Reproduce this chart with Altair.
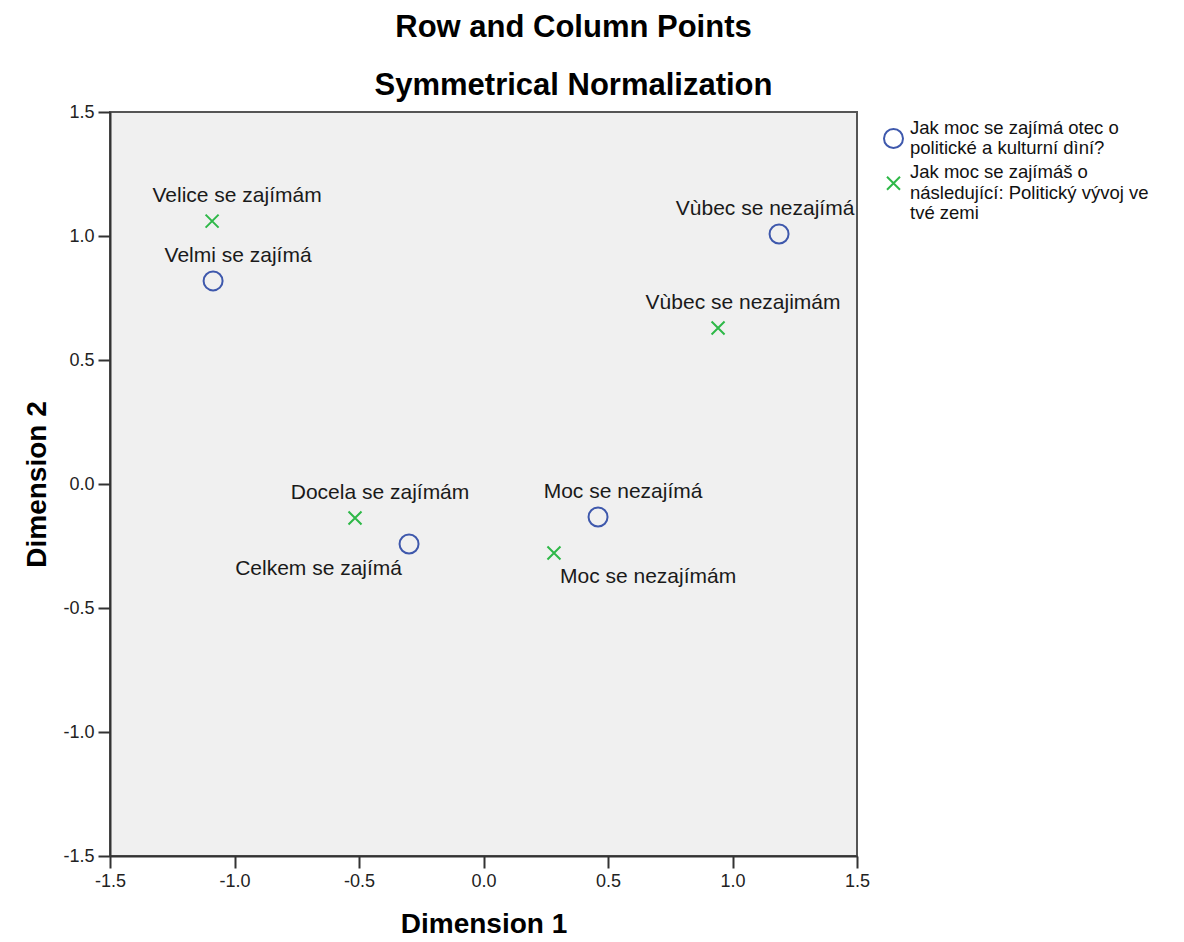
import altair as alt
import pandas as pd

# Row points (father's interest)
row_series = "Jak moc se zajímá otec o\npolitické a kulturní dìní?"
row_labels = ["Velmi se zajímá", "Celkem se zajímá", "Moc se nezajímá", "Vùbec se nezajímá"]
row_dim1 = [-1.086, -0.299, 0.460, 1.187]
row_dim2 = [0.819, -0.242, -0.133, 1.008]

# Column points (own interest)
col_series = "Jak moc se zajímáš o\nnásledující: Politický vývoj ve\ntvé zemi"
col_labels = ["Velice se zajímám", "Docela se zajímám", "Moc se nezajímám", "Vùbec se nezajimám"]
col_dim1 = [-1.090, -0.516, 0.283, 0.942]
col_dim2 = [1.060, -0.137, -0.278, 0.629]

axis_ticks = [-1.5, -1.0, -0.5, 0.0, 0.5, 1.0, 1.5]

df = pd.DataFrame({
    "series": [row_series] * len(row_labels) + [col_series] * len(col_labels),
    "label": row_labels + col_labels,
    "dim1": row_dim1 + col_dim1,
    "dim2": row_dim2 + col_dim2,
})

FONT = "Liberation Sans"
BLUE = "#3E58AC"
GREEN = "#2EB848"

tick_expr = "datum.value < 0 ? '-' + format(-datum.value, '.1f') : format(datum.value, '.1f')"

xenc = alt.X("dim1:Q", scale=alt.Scale(domain=[-1.5, 1.5], nice=False, zero=False),
             axis=alt.Axis(values=axis_ticks, labelExpr=tick_expr, title="Dimension 1",
                           titleX=373.5, titleY=68, titleBaseline="middle"))
yenc = alt.Y("dim2:Q", scale=alt.Scale(domain=[-1.5, 1.5], nice=False, zero=False),
             axis=alt.Axis(values=axis_ticks, labelExpr=tick_expr, title="Dimension 2",
                           titleX=-73, titleY=372, titleAngle=270, titleBaseline="middle"))

legend_def = alt.Legend(
    title=None, orient="none", legendX=773, legendY=16,
    labelExpr="split(datum.label, '\\n')",
)
series_domain = [row_series, col_series]

points = alt.Chart(df).mark_point(filled=False, strokeWidth=2, opacity=1).encode(
    x=xenc,
    y=yenc,
    color=alt.Color("series:N", scale=alt.Scale(domain=series_domain, range=[BLUE, GREEN]),
                    legend=legend_def),
    shape=alt.Shape("series:N", scale=alt.Scale(domain=series_domain,
                                                range=["circle", "M-1,-1L1,1M1,-1L-1,1"]),
                    legend=legend_def),
    size=alt.Size("series:N", scale=alt.Scale(domain=series_domain, range=[361, 169]),
                  legend=legend_def),
)

base = alt.Chart(df)
txt = dict(font=FONT, fontSize=21, color="#1a1a1a", baseline="middle")

above_labels = ["Velmi se zajímá", "Moc se nezajímá", "Velice se zajímám",
                "Docela se zajímám", "Vùbec se nezajimám"]
above = base.transform_filter(alt.FieldOneOfPredicate(field="label", oneOf=above_labels)).mark_text(
    align="center", dx=25, dy=-25, **txt).encode(x="dim1:Q", y="dim2:Q", text="label:N")
edge = base.transform_filter(alt.FieldOneOfPredicate(field="label", oneOf=["Vùbec se nezajímá"])).mark_text(
    align="center", dx=-14, dy=-25, **txt).encode(x="dim1:Q", y="dim2:Q", text="label:N")
below_left = base.transform_filter(alt.FieldOneOfPredicate(field="label", oneOf=["Celkem se zajímá"])).mark_text(
    align="right", dx=-7, dy=25, **txt).encode(x="dim1:Q", y="dim2:Q", text="label:N")
below_right = base.transform_filter(alt.FieldOneOfPredicate(field="label", oneOf=["Moc se nezajímám"])).mark_text(
    align="left", dx=6, dy=24, **txt).encode(x="dim1:Q", y="dim2:Q", text="label:N")

chart = alt.layer(points, above, edge, below_left, below_right).properties(
    width=747,
    height=744,
    autosize=alt.AutoSizeParams(type="none"),
    padding={"left": 102, "top": 104, "right": 315, "bottom": 84},
    title=alt.TitleParams(
        text=["Row and Column Points", "Symmetrical Normalization"],
        font=FONT, fontSize=31, fontWeight="bold", color="black",
        lineHeight=58, anchor="middle", frame="group", dx=90, offset=1,
    ),
).configure_view(
    fill="#F0F0F0", stroke="#555555", strokeWidth=2
).configure_axis(
    grid=False, domainColor="#333333", domainWidth=2, tickColor="#333333", tickWidth=2,
    tickSize=12, labelFont=FONT, labelFontSize=18, labelColor="#222222", labelPadding=4,
    titleFont=FONT, titleFontSize=28, titleFontWeight="bold", titleColor="black",
    labelOverlap=False, labelFlush=False,
).configure_legend(
    labelFont=FONT, labelFontSize=18.5, labelColor="#111111", labelLimit=400,
    labelOffset=6, rowPadding=5, symbolStrokeWidth=2, symbolFillColor="transparent",
    labelBaseline="line-bottom",
)

chart.save("out.html", embed_options={"renderer": "svg", "actions": False})
